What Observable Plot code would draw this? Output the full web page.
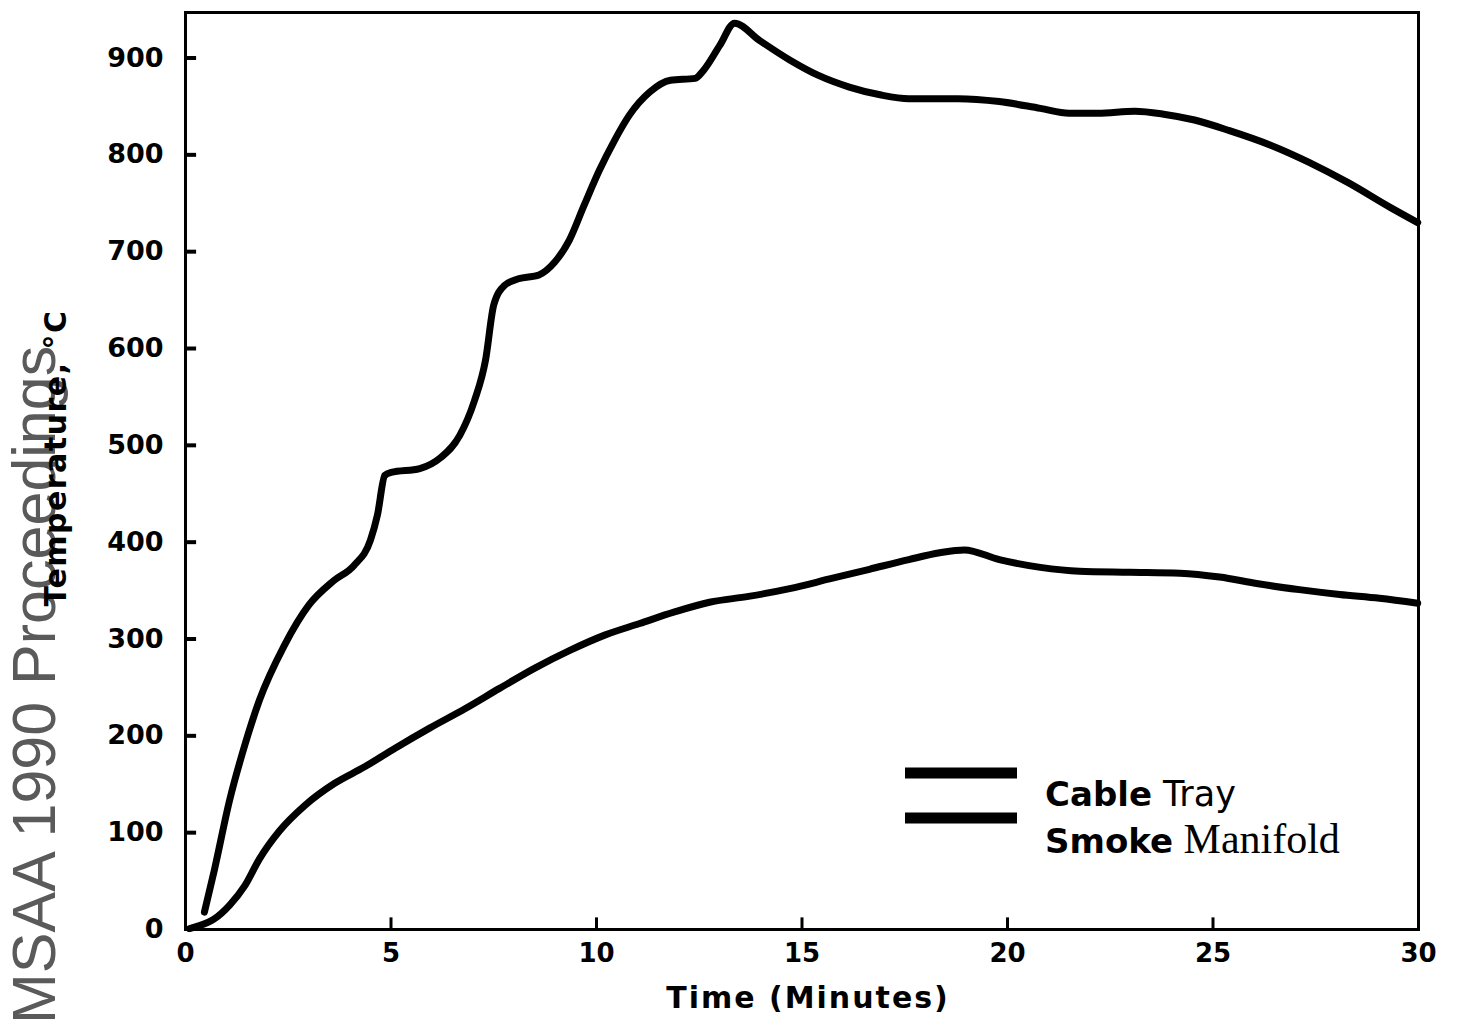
<!DOCTYPE html>
<html>
<head>
<meta charset="utf-8">
<script src="https://cdn.jsdelivr.net/npm/d3@7"></script>
<script src="https://cdn.jsdelivr.net/npm/@observablehq/plot@0.6"></script>
<style>
  html, body { margin: 0; padding: 0; background: #fff; }
  #chart { width: 1470px; height: 1033px; }
</style>
</head>
<body>
<div id="chart"></div>
<script>
// Tick values
const xTicks = [0, 5, 10, 15, 20, 25, 30];
const yTicks = [0, 100, 200, 300, 400, 500, 600, 700, 800, 900];

// Series names
const seriesNames = ["Cable Tray", "Smoke Manifold"];

// Cable Tray: time (min) and temperature (°C)
const cableTime = [0.46, 0.7, 1.07, 1.44, 1.8, 2.4, 3.0, 3.6, 4.1, 4.5, 4.67, 4.85, 5.0, 5.7, 6.2, 6.67, 7.03, 7.3, 7.5, 7.76, 8.1, 8.6, 8.98, 9.34, 9.7, 10.07, 10.44, 10.8, 11.3, 11.8, 12.4, 12.6, 13.0, 13.36, 13.97, 14.7, 15.4, 16.15, 16.9, 17.6, 18.8, 19.8, 20.8, 21.5, 22.2, 23.1, 23.8, 24.55, 25.4, 26.4, 27.35, 28.3, 29.3, 29.98];
const cableTemp = [18, 61, 133, 190, 237, 293, 335, 360, 376, 402, 428, 469, 472, 476, 487, 510, 546, 588, 645, 665, 672, 676, 689, 712, 748, 784, 815, 841, 865, 877, 879, 887, 913, 936, 918, 898, 882, 870, 862, 858, 858, 855, 848, 843, 843, 845, 842, 836, 825, 810, 792, 771, 746, 730];

// Smoke Manifold: time (min) and temperature (°C)
const smokeTime = [0.1, 0.34, 0.7, 1.07, 1.44, 1.8, 2.29, 2.9, 3.63, 4.36, 5.09, 5.94, 6.8, 7.64, 8.5, 9.34, 10.2, 11.05, 11.9, 12.75, 13.7, 14.7, 15.67, 16.64, 17.6, 18.35, 18.95, 19.8, 20.8, 21.75, 22.97, 24.2, 25.16, 26.1, 27.1, 28.08, 29.05, 29.98];
const smokeTemp = [1, 4, 11, 25, 45, 73, 102, 128, 151, 168, 187, 208, 228, 249, 270, 288, 304, 316, 328, 338, 344, 352, 362, 372, 382, 389, 392, 382, 374, 370, 369, 368, 364, 357, 351, 346, 342, 337];

const cable = cableTime.map((t, i) => ({t, T: cableTemp[i]}));
const smoke = smokeTime.map((t, i) => ({t, T: smokeTemp[i]}));

const font = "DejaVu Sans";

const plot = Plot.plot({
  width: 1470,
  height: 1033,
  marginLeft: 185,
  marginRight: 52,
  marginTop: 12,
  marginBottom: 104,
  x: {domain: [0, 30]},
  y: {domain: [0, 947]},
  style: {fontFamily: font, fontWeight: "bold", fontSize: "26px", color: "black", background: "white"},
  marks: [
    Plot.frame({stroke: "black", strokeWidth: 3}),
    Plot.ruleY(yTicks.slice(1), {x1: 0, x2: 0.27, stroke: "black", strokeWidth: 4}),
    Plot.ruleX(xTicks.slice(1, -1), {y1: 0, y2: 12, stroke: "black", strokeWidth: 3}),
    Plot.axisY({ticks: yTicks, tickSize: 0, tickPadding: 22, label: null, fontSize: 27, fontWeight: "bold"}),
    Plot.axisX({ticks: xTicks, tickSize: 0, tickPadding: 14, label: null, fontSize: 26, fontWeight: "bold"}),
    Plot.line(cable, {x: "t", y: "T", stroke: "black", strokeWidth: 7, curve: "monotone-x", strokeLinejoin: "round", strokeLinecap: "round"}),
    Plot.line(smoke, {x: "t", y: "T", stroke: "black", strokeWidth: 7, curve: "monotone-x", strokeLinejoin: "round", strokeLinecap: "round"})
  ]
});

document.getElementById("chart").appendChild(plot);

const svg = d3.select(plot);

// Watermark
svg.append("text")
  .attr("transform", "translate(55,1024) rotate(-90)")
  .attr("text-anchor", "start")
  .attr("font-family", "Liberation Sans, Arial, sans-serif")
  .attr("font-weight", "normal")
  .attr("font-size", 61)
  .attr("fill", "#5a5a5a")
  .text("MSAA 1990 Proceedings");

// Y axis title
svg.append("text")
  .attr("transform", "translate(66,458) rotate(-90)")
  .attr("text-anchor", "middle")
  .attr("font-family", font)
  .attr("font-weight", "bold")
  .attr("font-size", 30)
  .attr("letter-spacing", 1.5)
  .attr("fill", "black")
  .text("Temperature, °C");

// X axis title
svg.append("text")
  .attr("x", 808)
  .attr("y", 1008)
  .attr("text-anchor", "middle")
  .attr("font-family", font)
  .attr("font-weight", "bold")
  .attr("font-size", 30)
  .attr("letter-spacing", 2)
  .attr("fill", "black")
  .text("Time (Minutes)");

// Legend
const legend = svg.append("g");
[773, 818].forEach(y => {
  legend.append("line")
    .attr("x1", 905).attr("x2", 1017)
    .attr("y1", y).attr("y2", y)
    .attr("stroke", "black").attr("stroke-width", 11);
});
const t1 = legend.append("text").attr("x", 1045).attr("y", 806).attr("text-anchor", "start").attr("fill", "black");
t1.append("tspan").attr("font-family", font).attr("font-weight", "bold").attr("font-size", 34).text("Cable");
t1.append("tspan").attr("font-family", font).attr("font-weight", "normal").attr("font-size", 35).text(" Tray");
const t2 = legend.append("text").attr("x", 1045).attr("y", 853).attr("text-anchor", "start").attr("fill", "black");
t2.append("tspan").attr("font-family", font).attr("font-weight", "bold").attr("font-size", 34).text("Smoke");
t2.append("tspan").attr("font-family", "Liberation Serif, Times New Roman, serif").attr("font-weight", "normal").attr("font-size", 42).text(" Manifold");
</script>
</body>
</html>
